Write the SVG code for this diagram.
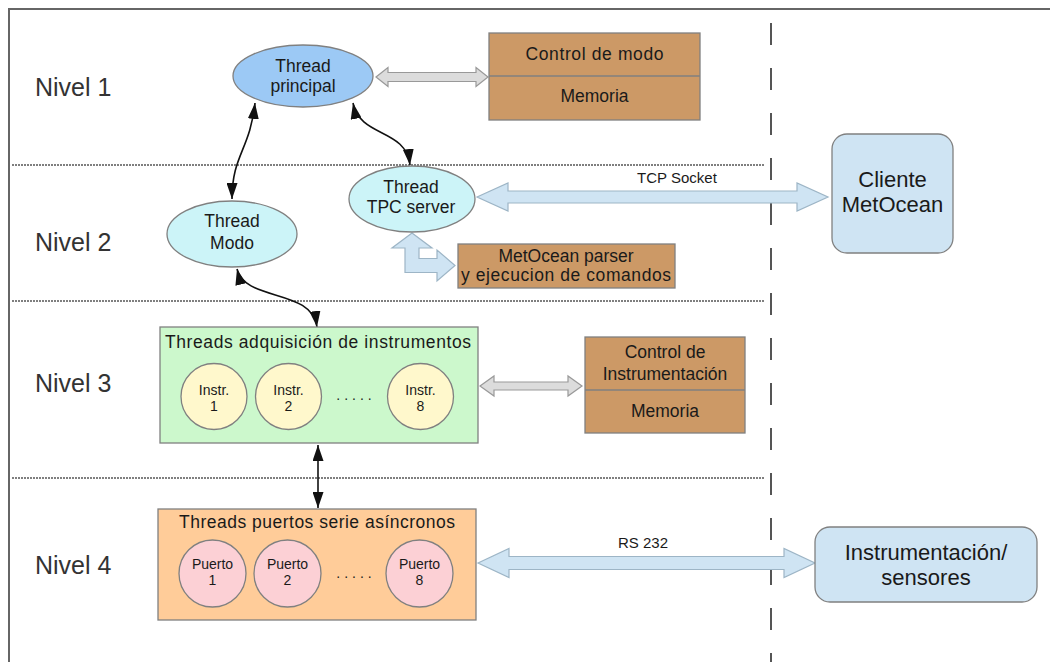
<svg xmlns="http://www.w3.org/2000/svg" width="1050" height="662" viewBox="0 0 1050 662">
  <style>
    text { font-family: "Liberation Sans", Arial, sans-serif; fill: #1a1a1a; }
    .nivel { font-size: 25px; fill: #333; }
    .lbl { font-size: 17.5px; text-anchor: middle; }
    .small { font-size: 14px; text-anchor: middle; }
    .dots { font-size: 14px; text-anchor: middle; letter-spacing: 4px; }
    .big { font-size: 22px; text-anchor: middle; }
    .sep { stroke: #555; stroke-width: 1.5; stroke-dasharray: 2 1; fill: none; }
    .vsep { stroke: #555; stroke-width: 2; stroke-dasharray: 22 23; fill: none; }
    .node { stroke: #808080; stroke-width: 1.3; }
    .brown { fill: #cc9966; stroke: #808080; stroke-width: 1.3; }
    .grey-arrow { fill: #dcdcdc; stroke: #999; stroke-width: 1.2; }
    .blue-arrow { fill: #cfe4f3; stroke: #9db5c6; stroke-width: 1.2; }
    .link { fill: none; stroke: #111; stroke-width: 1.6; marker-start: url(#head); marker-end: url(#head); }
  </style>
  <defs>
    <marker id="head" viewBox="0 0 16 11" markerUnits="userSpaceOnUse" markerWidth="16" markerHeight="11" refX="16" refY="5.5" orient="auto-start-reverse">
      <path d="M0,0 L16,5.5 L0,11 z" fill="#111"/>
    </marker>
  </defs>

  <rect width="1050" height="662" fill="#fff"/>
  <!-- outer frame (open to the right and bottom) -->
  <rect x="9" y="9" width="1100" height="700" fill="none" stroke="#666" stroke-width="2"/>

  <!-- level separators -->
  <g id="separators">
    <line class="sep" x1="12" y1="165" x2="765" y2="165"/>
    <line class="sep" x1="12" y1="301" x2="765" y2="301"/>
    <line class="sep" x1="12" y1="478" x2="765" y2="478"/>
    <line class="vsep" x1="771" y1="23" x2="771" y2="662"/>
  </g>

  <!-- level labels -->
  <g id="levels">
    <text class="nivel" x="35" y="96">Nivel 1</text>
    <text class="nivel" x="35" y="251">Nivel 2</text>
    <text class="nivel" x="35" y="392">Nivel 3</text>
    <text class="nivel" x="35" y="574">Nivel 4</text>
  </g>

  <!-- connectors -->
  <g id="connectors">
    <polygon class="grey-arrow" points="376,77 388,67.5 388,72.5 476,72.5 476,67.5 488,77 476,86.5 476,81.5 388,81.5 388,86.5"/>
    <polygon class="grey-arrow" points="480,386 494,376 494,382 568,382 568,376 582,386 568,396 568,390 494,390 494,396"/>
    <polygon class="blue-arrow" points="477,197 508,183 508,191 797,191 797,183 828,197 797,211 797,203 508,203 508,211"/>
    <polygon class="blue-arrow" points="478,563 509,548.5 509,556.5 784,556.5 784,548.5 815,563 784,577.5 784,569.5 509,569.5 509,577.5"/>
    <path class="blue-arrow" d="M412,233 L432,248 L419,248 L419,258.5 L437,258.5 L437,250 L455,265.5 L437,281 L437,272.5 L405,272.5 L405,248 L392,248 Z"/>
    <path class="link" d="M255,103 C 250,150 232,155 232,199"/>
    <path class="link" d="M353,103 C 360,138 406,128 410,165"/>
    <path class="link" d="M237,269 C 245,302 312,288 317,327"/>
    <path class="link" d="M318,445 L318,508"/>
    <text class="small" x="677" y="183" style="font-size:15px">TCP Socket</text>
    <text class="small" x="643" y="548" style="font-size:15px">RS 232</text>
  </g>

  <!-- nodes -->
  <g id="thread-principal">
    <ellipse class="node" cx="303" cy="76" rx="70" ry="31" fill="#9cc9f5"/>
    <text class="lbl" x="303" y="72">Thread</text>
    <text class="lbl" x="303" y="92">principal</text>
  </g>

  <g id="control-modo">
    <rect class="brown" x="489" y="33" width="211" height="87"/>
    <line x1="489" y1="76" x2="700" y2="76" stroke="#808080" stroke-width="1.3"/>
    <text class="lbl" x="594.5" y="60" textLength="138" lengthAdjust="spacing">Control de modo</text>
    <text class="lbl" x="594.5" y="102">Memoria</text>
  </g>

  <g id="thread-modo">
    <ellipse class="node" cx="232" cy="234" rx="65" ry="33" fill="#ccf4f8"/>
    <text class="lbl" x="232" y="227">Thread</text>
    <text class="lbl" x="232" y="249">Modo</text>
  </g>

  <g id="thread-tpc">
    <ellipse class="node" cx="412" cy="199" rx="63" ry="33" fill="#ccf4f8"/>
    <text class="lbl" x="411" y="193">Thread</text>
    <text class="lbl" x="411" y="213">TPC server</text>
  </g>

  <g id="parser">
    <rect class="brown" x="458" y="244" width="217" height="44"/>
    <text class="lbl" x="566" y="262">MetOcean parser</text>
    <text class="lbl" x="566" y="281" textLength="210" lengthAdjust="spacing">y ejecucion de comandos</text>
  </g>

  <g id="cliente">
    <rect class="node" x="832" y="134" width="121" height="119" rx="15" fill="#cfe4f3"/>
    <text class="big" x="892.5" y="187">Cliente</text>
    <text class="big" x="892.5" y="212">MetOcean</text>
  </g>

  <g id="threads-adquisicion">
    <rect class="node" x="160" y="327" width="318" height="116" fill="#ccf8cc"/>
    <text class="lbl" x="318" y="348" textLength="306" lengthAdjust="spacing">Threads adquisición de instrumentos</text>
    <circle class="node" cx="214" cy="396.5" r="33" fill="#fff8cc"/>
    <text class="small" x="214" y="395">Instr.</text>
    <text class="small" x="214" y="411">1</text>
    <circle class="node" cx="288.5" cy="396.5" r="33" fill="#fff8cc"/>
    <text class="small" x="288.5" y="395">Instr.</text>
    <text class="small" x="288.5" y="411">2</text>
    <text class="dots" x="356" y="400">.....</text>
    <circle class="node" cx="420.5" cy="396.5" r="33" fill="#fff8cc"/>
    <text class="small" x="420.5" y="395">Instr.</text>
    <text class="small" x="420.5" y="411">8</text>
  </g>

  <g id="control-instrumentacion">
    <rect class="brown" x="585" y="337" width="160" height="96"/>
    <line x1="585" y1="390" x2="745" y2="390" stroke="#808080" stroke-width="1.3"/>
    <text class="lbl" x="665" y="358">Control de</text>
    <text class="lbl" x="665" y="380">Instrumentación</text>
    <text class="lbl" x="665" y="417">Memoria</text>
  </g>

  <g id="threads-puertos">
    <rect class="node" x="158" y="509" width="318" height="111" fill="#ffcc99"/>
    <text class="lbl" x="317" y="528" textLength="276" lengthAdjust="spacing">Threads puertos serie asíncronos</text>
    <circle class="node" cx="212.5" cy="573.5" r="33.5" fill="#fcd0d5"/>
    <text class="small" x="212.5" y="569">Puerto</text>
    <text class="small" x="212.5" y="585">1</text>
    <circle class="node" cx="287.5" cy="573.5" r="33.5" fill="#fcd0d5"/>
    <text class="small" x="287.5" y="569">Puerto</text>
    <text class="small" x="287.5" y="585">2</text>
    <text class="dots" x="356" y="578">.....</text>
    <circle class="node" cx="419.5" cy="573.5" r="33.5" fill="#fcd0d5"/>
    <text class="small" x="419.5" y="569">Puerto</text>
    <text class="small" x="419.5" y="585">8</text>
  </g>

  <g id="instrumentacion">
    <rect class="node" x="815" y="527" width="222" height="75" rx="15" fill="#cfe4f3"/>
    <text class="big" x="926" y="560">Instrumentación/</text>
    <text class="big" x="926" y="585">sensores</text>
  </g>
</svg>
